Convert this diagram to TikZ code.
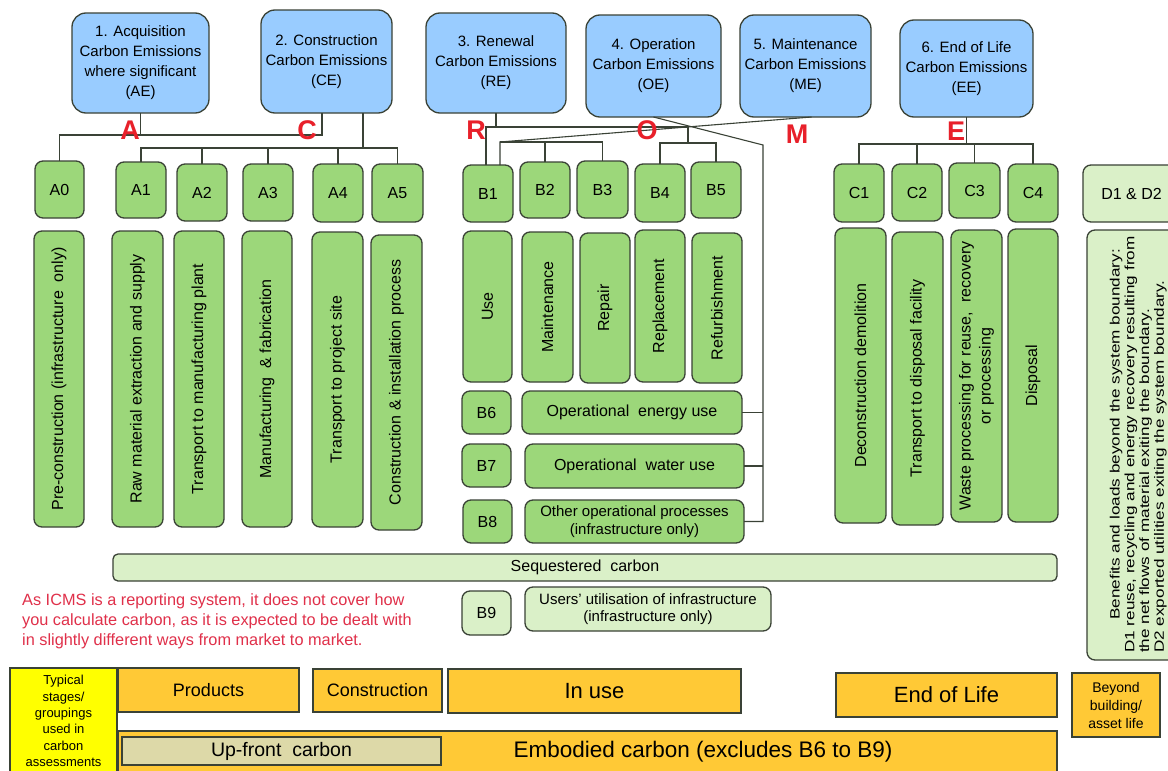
\documentclass[tikz,border=0pt]{standalone}
\usepackage{fontspec}
\setmainfont{Liberation Sans}
\usetikzlibrary{calc}
\definecolor{bluebox}{HTML}{99CCFF}
\definecolor{greenbox}{HTML}{9CD77A}
\definecolor{lightgreen}{HTML}{DAF0C8}
\definecolor{orangebar}{HTML}{FFC936}
\definecolor{khaki}{HTML}{DDD9A8}
\definecolor{yellowbox}{HTML}{FFFF00}
\definecolor{redtxt}{HTML}{E8202A}
\definecolor{notered}{HTML}{E0304A}
\definecolor{edge}{HTML}{3A4236}
\newcommand\mybox[7]{\node[#6, minimum width={#4pt-#2pt}, minimum height={#5pt-#3pt}] (#1) at ({(#2+#4)/2},{(#3+#5)/2}) {#7};}
\tikzset{
  base/.style={draw=edge, line width=1.3pt, inner sep=0pt, outer sep=0pt, align=center},
  bluebx/.style={base, fill=bluebox, rounded corners=14pt, font=\fontsize{15}{20}\selectfont},
  grn/.style={base, fill=greenbox, rounded corners=8pt, font=\fontsize{16}{19}\selectfont},
  lgrn/.style={base, fill=lightgreen, rounded corners=8pt, font=\fontsize{15}{17}\selectfont},
  orng/.style={base, fill=orangebar, line width=1.2pt},
  link/.style={draw=edge, line width=1.1pt},
  letter/.style={text=redtxt, inner sep=0pt, font=\fontsize{27}{27}\selectfont\bfseries},
}
\begin{document}
\begin{tikzpicture}[x=1pt,y=-1pt]
\useasboundingbox (0,0) rectangle (1168,771);
\fill[white] (0,0) rectangle (1168,771);
% top boxes
\mybox{AE}{72}{13}{209}{113}{bluebx}{1. Acquisition\\Carbon Emissions\\where significant\\(AE)}
\mybox{CE}{261}{10}{392}{113}{bluebx}{2. Construction\\Carbon Emissions\\(CE)}
\mybox{RE}{426}{13}{566}{113}{bluebx}{3. Renewal\\Carbon Emissions\\(RE)}
\mybox{OE}{586}{15}{721}{117}{bluebx}{4. Operation\\Carbon Emissions\\(OE)}
\mybox{ME}{740}{15}{871}{117}{bluebx}{5. Maintenance\\Carbon Emissions\\(ME)}
\mybox{EE}{900}{20}{1033}{117}{bluebx}{6. End of Life\\Carbon Emissions\\(EE)}
% module labels
\mybox{A0}{35}{161}{84}{218}{grn}{A0}
\mybox{A1}{116}{162}{166}{218}{grn}{A1}
\mybox{A2}{177}{164}{227}{221}{grn}{A2}
\mybox{A3}{243}{164}{293}{221}{grn}{A3}
\mybox{A4}{313}{164}{363}{222}{grn}{A4}
\mybox{A5}{372}{164}{423}{222}{grn}{A5}
\mybox{B1}{463}{165}{513}{222}{grn}{B1}
\mybox{B2}{520}{162}{570}{218}{grn}{B2}
\mybox{B3}{577}{161}{628}{218}{grn}{B3}
\mybox{B4}{635}{164}{685}{222}{grn}{B4}
\mybox{B5}{691}{162}{741}{218}{grn}{B5}
\mybox{C1}{834}{164}{884}{222}{grn}{C1}
\mybox{C2}{892}{164}{942}{221}{grn}{C2}
\mybox{C3}{949}{163}{1000}{218}{grn}{C3}
\mybox{C4}{1008}{164}{1058}{222}{grn}{C4}
\mybox{D}{1083}{165}{1180}{222}{lgrn}{\fontsize{16}{19}\selectfont D1 \& D2}
% tall boxes
\mybox{A0t}{34}{231}{84}{527}{grn}{\rotatebox{90}{Pre-construction (infrastructure\ \ only)}}
\mybox{A1t}{112}{231}{163}{527}{grn}{\rotatebox{90}{Raw material extraction and supply}}
\mybox{A2t}{174}{231}{224}{527}{grn}{\rotatebox{90}{Transport to manufacturing plant}}
\mybox{A3t}{242}{231}{292}{527}{grn}{\rotatebox{90}{Manufacturing\ \ \& fabrication}}
\mybox{A4t}{312}{232}{363}{527}{grn}{\rotatebox{90}{Transport to project site}}
\mybox{A5t}{371}{235}{422}{530}{grn}{\rotatebox{90}{Construction \& installation process}}
\mybox{B1t}{463}{231}{512}{382}{grn}{\rotatebox{90}{Use}}
\mybox{B2t}{522}{232}{573}{382}{grn}{\rotatebox{90}{Maintenance}}
\mybox{B3t}{580}{233}{630}{383}{grn}{\rotatebox{90}{Repair}}
\mybox{B4t}{635}{230}{685}{382}{grn}{\rotatebox{90}{Replacement}}
\mybox{B5t}{692}{233}{742}{383}{grn}{\rotatebox{90}{Refurbishment}}
\mybox{C1t}{835}{228}{886}{523}{grn}{\rotatebox{90}{Deconstruction demolition}}
\mybox{C2t}{892}{232}{943}{525}{grn}{\rotatebox{90}{Transport to disposal facility}}
\mybox{C3t}{951}{230}{1002}{522}{grn}{\rotatebox{90}{\fontsize{16}{20}\selectfont\begin{tabular}{@{}c@{}}Waste processing for reuse,\ \ recovery\\or processing\end{tabular}}}
\mybox{C4t}{1008}{229}{1058}{522}{grn}{\rotatebox{90}{Disposal}}
\mybox{Dt}{1087}{230}{1190}{660}{lgrn}{}
\node[rotate=90, anchor=north west, inner sep=0pt, font=\fontsize{13.5}{14.8}\selectfont] (Dtxt) at (1109,653) {\scalebox{1.27}[1]{\begin{tabular}{@{}l@{}}\hspace*{26pt}Benefits and loads beyond the system boundary:\\D1 reuse, recycling and energy recovery resulting from\\the net flows of material exiting the boundary.\\D2 exported utilities exiting the system boundary.\end{tabular}}};
% B6-B9
\mybox{B6}{462}{391}{511}{434}{grn}{B6}
\mybox{E6}{522}{391}{742}{434}{grn}{Operational\ \ energy use}
\mybox{B7}{462}{444}{511}{487}{grn}{B7}
\mybox{E7}{525}{444}{744}{488}{grn}{Operational\ \ water use}
\mybox{B8}{463}{500}{512}{543}{grn}{B8}
\mybox{E8}{525}{500}{744}{543}{grn, font=\fontsize{15}{18}\selectfont}{Other operational processes\\(infrastructure only)}
\mybox{SEQ}{113}{554}{1057}{581}{lgrn, rounded corners=5pt, font=\fontsize{16}{19}\selectfont}{Sequestered\ \ carbon}
\mybox{B9}{462}{591}{511}{635}{lgrn, font=\fontsize{16}{19}\selectfont}{B9}
\mybox{U9}{525}{587}{771}{631}{lgrn}{Users' utilisation of infrastructure\\(infrastructure only)}
% connectors
\coordinate (hA) at (0,135);
\draw[link] (AE.south) -- (AE.south |- hA);
\draw[link] (A0.north) -- (A0.north |- hA) -- ([xshift=-4.5pt]CE.south |- hA) -- ([xshift=-4.5pt]CE.south);
\coordinate (hC) at (0,148);
\draw[link] ([xshift=36.5pt]CE.south) -- ([xshift=36.5pt]CE.south |- hC);
\draw[link] (A1.north) -- (A1.north |- hC) -- (A5.north |- hC) -- (A5.north);
\foreach \n in {A2,A3,A4} \draw[link] (\n.north) -- (\n.north |- hC);
\coordinate (hR) at (0,127);
\coordinate (hR2) at (0,143);
\coordinate (jR) at ($(B4.north)!0.5!(B5.north)$);
\draw[link] (RE.south) -- (RE.south |- hR);
\draw[link] ([xshift=-2pt]B1.north) -- ([xshift=-2pt]B1.north |- hR) -- (jR |- hR) -- (jR |- hR2);
\draw[link] (B4.north) -- (B4.north |- hR2) -- (B5.north |- hR2) -- (B5.north);
\coordinate (hM) at (0,142);
\draw[link] ([xshift=6pt]ME.south) -- ([xshift=12pt]B1.north |- hM) -- ([xshift=12pt]B1.north);
\draw[link] ([xshift=12pt]B1.north |- hM) -- (B3.north |- hM) -- (B3.north);
\draw[link] (B2.north) -- (B2.north |- hM);
\coordinate (vO) at (763,145);
\draw[link] (OE.south) -- (vO) -- (vO |- E8.east) -- (E8.east);
\draw[link] (E6.east) -- (E6.east -| vO);
\draw[link] (E7.east) -- (E7.east -| vO);
\coordinate (hE) at (0,144);
\draw[link] (EE.south) -- (EE.south |- hE);
\draw[link] (C1.north) -- (C1.north |- hE) -- (C4.north |- hE) -- (C4.north);
\foreach \n in {C2,C3} \draw[link] (\n.north) -- (\n.north |- hE);
% red letters
\node[letter] (LA) at (130,130) {A};
\node[letter] (LC) at (307,130) {C};
\node[letter] (LR) at (476,130) {R};
\node[letter] (LO) at (647,130) {O};
\node[letter] (LM) at (797,134) {M};
\node[letter] (LE) at (956,131) {E};
% note
\node[anchor=north west, inner sep=0pt, align=left, text=notered, font=\fontsize{16.3}{20}\selectfont] (note) at (22,593) {As ICMS is a reporting system, it does not cover how\\you calculate carbon, as it is expected to be dealt with\\in slightly different ways from market to market.};
% bottom
\mybox{YB}{10}{668}{117}{774}{base, fill=yellowbox, line width=1.2pt, font=\fontsize{13}{16.4}\selectfont}{Typical\\stages/\\groupings\\used in\\carbon\\assessments}
\mybox{PR}{118}{668}{299}{712}{orng, font=\fontsize{18}{20}\selectfont}{Products}
\mybox{CO}{313}{669}{442}{712}{orng, font=\fontsize{18}{20}\selectfont}{Construction}
\mybox{IU}{448}{669}{741}{713}{orng, font=\fontsize{22}{24}\selectfont}{In use}
\mybox{EL}{836}{673}{1057}{717}{orng, font=\fontsize{22}{24}\selectfont}{End of Life}
\mybox{BY}{1072}{673}{1160}{737}{orng, font=\fontsize{14}{18}\selectfont}{Beyond\\building/\\asset life}
\mybox{EM}{118}{731}{1057}{774}{orng}{}
\node[font=\fontsize{22.5}{24}\selectfont, inner sep=0pt] (EMt) at (703,752) {Embodied carbon (excludes B6 to B9)};
\mybox{UF}{122}{737}{441}{765}{base, fill=khaki, line width=1.2pt, font=\fontsize{19.5}{22}\selectfont}{Up-front\ \ carbon}
\end{tikzpicture}
\end{document}
